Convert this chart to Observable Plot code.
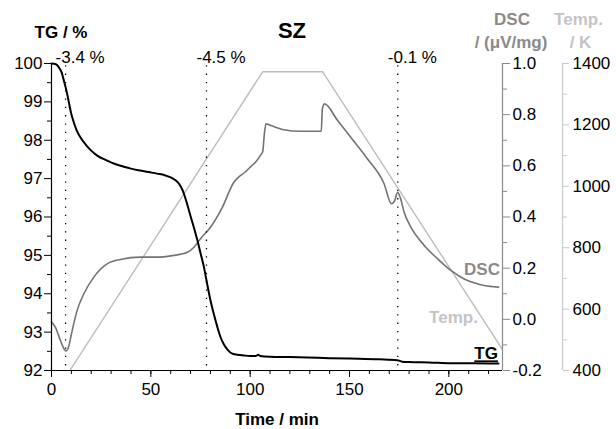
<!DOCTYPE html>
<html><head><meta charset="utf-8">
<script src="https://cdn.jsdelivr.net/npm/d3@7"></script>
<script src="https://cdn.jsdelivr.net/npm/@observablehq/plot@0.6"></script>
<style>body{margin:0;background:#fff}</style>
</head><body><div id="chart"></div>
<script>
// ---- data ----
const tgTime  = [0, 2.2, 3.7, 5, 6.2, 7.5, 8.7, 9.8, 11, 12.5, 14.6, 17, 19.6, 23, 28, 32, 36.4, 40, 44.8, 49, 53.2, 57, 60, 62, 63.6, 65.2, 66.7, 68.3, 70, 71.7, 73.4, 75, 76.7, 78.3, 80, 81.8, 83.5, 85, 86.8, 88.5, 90, 91.5, 93.5, 97, 100, 103, 104, 105, 110, 120, 134, 150, 165, 174, 176.5, 180, 190, 201, 212, 225];
const tgValue = [100, 99.98, 99.9, 99.78, 99.56, 99.3, 99.0, 98.72, 98.5, 98.28, 98.07, 97.9, 97.75, 97.6, 97.47, 97.38, 97.31, 97.26, 97.21, 97.17, 97.13, 97.09, 97.03, 96.97, 96.9, 96.78, 96.6, 96.33, 96.02, 95.72, 95.4, 95.06, 94.7, 94.27, 93.83, 93.45, 93.13, 92.88, 92.68, 92.55, 92.47, 92.43, 92.41, 92.39, 92.38, 92.38, 92.41, 92.38, 92.36, 92.35, 92.33, 92.31, 92.29, 92.27, 92.23, 92.22, 92.21, 92.19, 92.19, 92.18];

const dscTime  = [0, 2, 4.5, 6.5, 7.3, 8.5, 10.4, 12.9, 16.3, 21.3, 28, 34.8, 44.8, 53.2, 61.6, 66, 68.4, 71.7, 75, 80, 86, 91.8, 94.5, 96.9, 100.3, 103, 105.5, 106.3, 107.2, 108, 110.3, 117, 125.4, 135.8, 136.3, 137.4, 144, 150.6, 159, 167.4, 171.1, 172.8, 174.2, 175.5, 177.5, 180.9, 187.6, 194.3, 201, 207.7, 213, 217.8, 225];
const dscValue = [-0.011, -0.031, -0.083, -0.118, -0.124, -0.11, -0.044, 0.035, 0.1, 0.165, 0.217, 0.234, 0.243, 0.243, 0.25, 0.256, 0.262, 0.282, 0.315, 0.36, 0.438, 0.536, 0.558, 0.572, 0.597, 0.617, 0.645, 0.655, 0.73, 0.764, 0.758, 0.741, 0.735, 0.735, 0.82, 0.842, 0.777, 0.712, 0.628, 0.53, 0.452, 0.465, 0.497, 0.477, 0.419, 0.36, 0.289, 0.237, 0.191, 0.158, 0.142, 0.132, 0.126];

const tempTime  = [0, 106.3, 136.5, 227];
const tempValue = [307, 1373, 1373, 468];

const stepTimes  = [7.1, 78, 174.3];
const stepLabels = ["-3.4 %", "-4.5 %", "-0.1 %"];

const xTicks      = [0, 50, 100, 150, 200];
const xMinorTicks = d3.range(0, 227, 10);
const tgTicks     = [92, 93, 94, 95, 96, 97, 98, 99, 100];
const tgMinor     = d3.range(92.5, 100, 1);
const dscTicks    = [-0.2, 0.0, 0.2, 0.4, 0.6, 0.8, 1.0];
const dscMinor    = [-0.1, 0.1, 0.3, 0.5, 0.7, 0.9];
const tempTicks   = [400, 600, 800, 1000, 1200, 1400];
const tempMinor   = [500, 700, 900, 1100, 1300];

const seriesLabels = [
  {text: "DSC",   t: 225.7, tg: 94.48, color: "#8a8a8a"},
  {text: "Temp.", t: 214.6, tg: 93.25, color: "#c4c4c4"},
  {text: "TG",    t: 224.7, tg: 92.29, color: "#000"}
];

// ---- scale mapping of the secondary axes onto the TG axis ----
const tgMin = 92, tgMax = 100, dscMin = -0.2, dscMax = 1.0, tMin = 400, tMax = 1400;
const dscToTG  = d => tgMin + (d - dscMin) / (dscMax - dscMin) * (tgMax - tgMin);
const tgToDsc  = v => dscMin + (v - tgMin) / (tgMax - tgMin) * (dscMax - dscMin);
const tempToTG = t => tgMin + (t - tMin) / (tMax - tMin) * (tgMax - tgMin);
const tgToTemp = v => tMin + (v - tgMin) / (tgMax - tgMin) * (tMax - tMin);

const tg   = tgTime.map((t, i) => ({t, v: tgValue[i]}));
const dsc  = dscTime.map((t, i) => ({t, v: dscToTG(dscValue[i])}));
const temp = tempTime.map((t, i) => ({t, v: tempToTG(tempValue[i])}));
const steps = stepTimes.map((t, i) => ({t, label: stepLabels[i]}));

const FS = 17;
const ML = 51, MT = 63;
const hdr = (text, x, y, opts) => Plot.text([text], Object.assign({
  text: d => d, frameAnchor: "top-left", dx: x - ML, dy: y - MT,
  textAnchor: "middle", lineAnchor: "bottom", fontSize: FS, fontWeight: "bold", fill: "#000"
}, opts));

const chart = Plot.plot({
  width: 616, height: 429,
  marginLeft: ML, marginRight: 114, marginTop: MT, marginBottom: 59,
  style: {fontFamily: "'Liberation Sans', Arial, sans-serif", fontSize: FS + "px", background: "#fff", overflow: "visible"},
  x: {domain: [0, 227]},
  y: {domain: [tgMin, tgMax]},
  marks: [
    // secondary curves
    Plot.line(temp, {x: "t", y: "v", stroke: "#bdbdbd", strokeWidth: 1.4, clip: true}),
    Plot.line(dsc,  {x: "t", y: "v", stroke: "#737373", strokeWidth: 1.6, curve: "monotone-x"}),
    // step markers
    Plot.ruleX(steps, {x: "t", y1: 92.12, y2: 99.95, stroke: "#000", strokeWidth: 1.3, strokeDasharray: "1.3,7"}),
    Plot.text(steps, {x: "t", text: "label", frameAnchor: "top", textAnchor: "start", lineAnchor: "bottom", dx: -10, dy: -1, fontSize: FS}),
    // TG
    Plot.line(tg, {x: "t", y: "v", stroke: "#000", strokeWidth: 2, curve: "monotone-x"}),
    // axes frame lines
    Plot.ruleX([0], {y1: tgMin, y2: tgMax, stroke: "#000", strokeWidth: 1.2}),
    Plot.ruleY([tgMin], {stroke: "#000", strokeWidth: 1.2}),
    Plot.ruleX([227], {y1: tgMin, y2: tgMax, stroke: "#8a8a8a", strokeWidth: 1.2}),
    Plot.ruleX([227], {y1: tgMin, y2: tgMax, stroke: "#cacaca", strokeWidth: 1.2, dx: 60}),
    // x axis
    Plot.axisX(xTicks, {tickSize: 7, tickPadding: 5, label: null, fontSize: FS}),
    Plot.axisX(xMinorTicks, {tickSize: 4, text: null, label: null}),
    // TG axis
    Plot.axisY(tgTicks, {anchor: "left", tickSize: 7, tickPadding: 2, label: null, fontSize: FS}),
    Plot.axisY(tgMinor, {anchor: "left", tickSize: 4, text: null, label: null}),
    // DSC axis
    Plot.axisY(dscTicks.map(dscToTG), {anchor: "right", tickSize: 7, tickPadding: 3, label: null, stroke: "#8a8a8a", fill: "#000", fontSize: FS,
      tickFormat: v => (Math.round(tgToDsc(v) * 10) / 10).toFixed(1)}),
    Plot.axisY(dscMinor.map(dscToTG), {anchor: "right", tickSize: 4, text: null, label: null, stroke: "#8a8a8a"}),
    // Temperature axis
    Plot.axisY(tempTicks.map(tempToTG), {anchor: "right", dx: 60, tickSize: 6, tickPadding: 4, label: null, stroke: "#cacaca", fill: "#000", fontSize: FS,
      tickFormat: v => String(Math.round(tgToTemp(v)))}),
    Plot.axisY(tempMinor.map(tempToTG), {anchor: "right", dx: 60, tickSize: 4, text: null, label: null, stroke: "#cacaca"}),
    // series labels
    Plot.text(seriesLabels, {x: "t", y: "tg", text: "text", fill: "color", textAnchor: "end", lineAnchor: "bottom", fontSize: FS, fontWeight: "bold"}),
    // headers / titles
    hdr("SZ", 291.5, 37, {fontSize: 22}),
    hdr("TG / %", 60.5, 37),
    hdr("DSC", 511.5, 24, {fill: "#8a8a8a"}),
    hdr("/ (μV/mg)", 510.5, 47, {fill: "#8a8a8a"}),
    hdr("Temp.", 578, 24, {fill: "#c4c4c4"}),
    hdr("/ K", 580, 47, {fill: "#c4c4c4"}),
    Plot.text(["Time / min"], {text: d => d, frameAnchor: "bottom", dy: 54, lineAnchor: "bottom", fontSize: FS, fontWeight: "bold"})
  ]
});
d3.select(chart).selectAll("text").filter(function() { return this.textContent === "TG"; })
  .style("text-decoration", "underline");
document.getElementById("chart").appendChild(chart);
</script>
</body></html>
